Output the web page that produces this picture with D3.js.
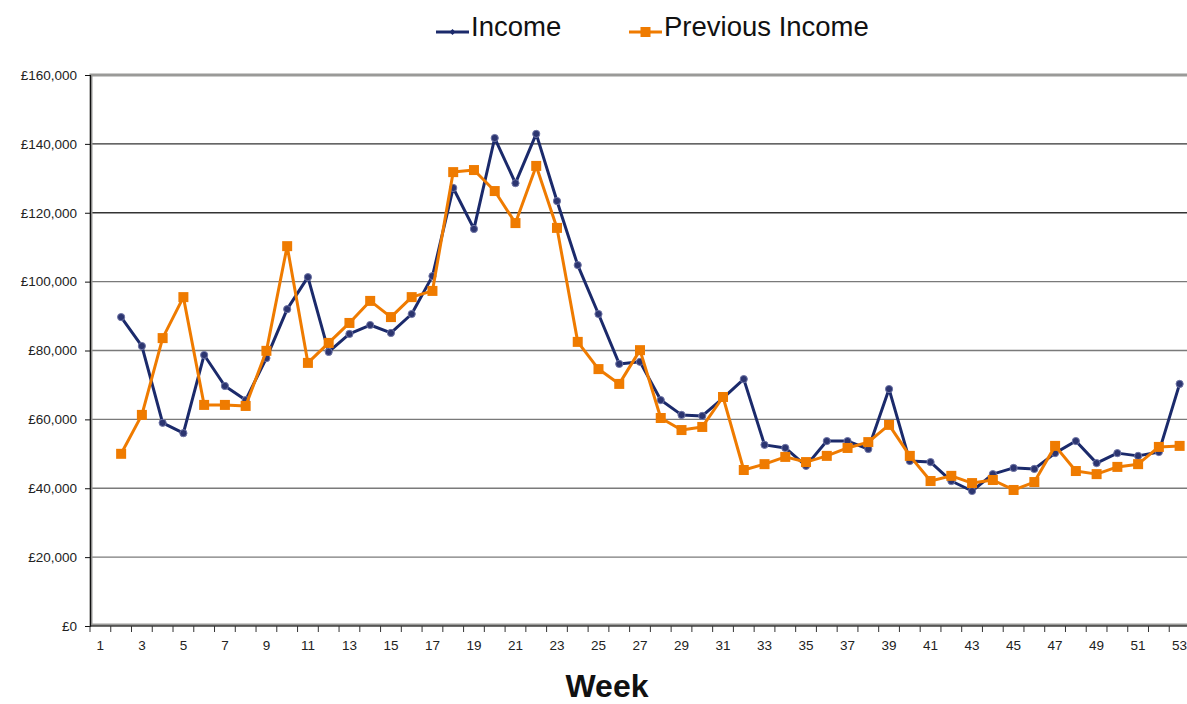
<!DOCTYPE html>
<head>
  <meta charset="utf-8">
  <script src="https://d3js.org/d3.v7.min.js"></script>
  <style>
    body { margin: 0; background: #fff; }
    svg { display: block; font-family: "Liberation Sans", Arial, sans-serif; }
    .tick text { fill: #222; font-size: 13.5px; }
    .legend text { fill: #111; font-size: 27.5px; }
    .axis-title { font-size: 32px; font-weight: bold; fill: #111; }
  </style>
</head>
<body>
<script>
  // weeks 1..53, no data for week 1
  var weeks = d3.range(1, 54);
  var income = [null, 89700, 81300, 59000, 56000, 78700, 69700, 65600, 77800, 92000,
    101300, 79600, 84800, 87400, 85100, 90600, 101600, 127200, 115300, 141700,
    128600, 142900, 123400, 104800, 90600, 76100, 76700, 65600, 61300, 61000,
    66200, 71700, 52600, 51700, 46500, 53700, 53700, 51400, 68800, 47900,
    47600, 42100, 39200, 44100, 45900, 45600, 50200, 53700, 47300, 50200,
    49400, 50500, 70300];
  var previousIncome = [null, 50000, 61300, 83600, 95500, 64200, 64200, 63900, 79900, 110300,
    76400, 82200, 88000, 94400, 89700, 95500, 97300, 131800, 132400, 126300,
    117000, 133600, 115600, 82500, 74600, 70300, 80100, 60400, 56900, 57800,
    66500, 45300, 47000, 49100, 47600, 49400, 51700, 53400, 58400, 49400,
    42100, 43600, 41500, 42400, 39500, 41800, 52300, 45000, 44100, 46200,
    47000, 52000, 52300];
  var yTicks = [0, 20000, 40000, 60000, 80000, 100000, 120000, 140000, 160000];
  var xLabels = weeks.filter(function(w) { return w % 2 === 1; });

  var width = 1187, height = 704;
  var margin = {top: 75, right: -3, bottom: 78, left: 90};
  var plotW = width - margin.left - margin.right;
  var plotH = height - margin.top - margin.bottom;

  var svg = d3.select("body").append("svg")
      .attr("width", width)
      .attr("height", height);

  var g = svg.append("g")
      .attr("transform", "translate(" + margin.left + "," + margin.top + ")");

  var x = d3.scaleBand().domain(weeks).range([0, plotW]);
  var y = d3.scaleLinear().domain([0, 160000]).range([plotH, 0]);

  // gridlines
  g.selectAll(".grid")
      .data(yTicks.filter(function(d) { return d > 0; }))
    .enter().append("line")
      .attr("x1", 0).attr("x2", plotW)
      .attr("y1", function(d) { return y(d); })
      .attr("y2", function(d) { return y(d); })
      .attr("stroke", function(d) { return d >= 120000 ? "#333" : "#7a7a7a"; })
      .attr("stroke-width", 1.4);

  // plot frame (grey shadow border)
  g.append("rect")
      .attr("x", 1).attr("y", 0)
      .attr("width", plotW).attr("height", plotH - 1)
      .attr("fill", "none")
      .attr("stroke", "#9a9a98")
      .attr("stroke-width", 3);

  // y axis
  var yAxis = d3.axisLeft(y)
      .tickValues(yTicks)
      .tickSize(5)
      .tickPadding(8)
      .tickFormat(function(d) { return "£" + d3.format(",")(d); });
  var ya = g.append("g").call(yAxis);
  ya.select(".domain").attr("stroke", "#111").attr("stroke-width", 1.2);
  ya.selectAll(".tick line").attr("stroke", "#111");

  // x axis: ticks on category boundaries, labels on odd weeks
  var xa = g.append("g").attr("transform", "translate(0," + plotH + ")");
  xa.append("line").attr("x1", 0).attr("x2", plotW)
      .attr("stroke", "#111").attr("stroke-width", 1.2);
  xa.selectAll(".xt")
      .data(weeks)
    .enter().append("line")
      .attr("x1", function(d) { return x(d); })
      .attr("x2", function(d) { return x(d); })
      .attr("y1", 0).attr("y2", 6)
      .attr("stroke", "#333");
  xa.selectAll(".xl")
      .data(xLabels)
    .enter().append("text")
      .attr("class", "tick")
      .attr("x", function(d) { return x(d) + x.bandwidth() / 2; })
      .attr("y", 24)
      .attr("text-anchor", "middle")
      .style("font-size", "13.5px")
      .attr("fill", "#222")
      .text(function(d) { return d; });

  var cx = function(i) { return x(weeks[i]) + x.bandwidth() / 2; };
  var line = d3.line()
      .defined(function(d) { return d != null; })
      .x(function(d, i) { return cx(i); })
      .y(function(d) { return y(d); });

  var navy = "#1b2a6b", orange = "#ef7b00";

  // Income
  g.append("path").datum(income)
      .attr("fill", "none").attr("stroke", navy).attr("stroke-width", 3)
      .attr("stroke-linejoin", "round")
      .attr("d", line);
  g.selectAll(".inc")
      .data(income.map(function(v, i) { return {v: v, i: i}; }).filter(function(d) { return d.v != null; }))
    .enter().append("circle")
      .attr("cx", function(d) { return cx(d.i); })
      .attr("cy", function(d) { return y(d.v); })
      .attr("r", 3.6)
      .attr("fill", "#2c3570")
      .attr("stroke", "#6f75a6").attr("stroke-width", 1);

  // Previous Income
  g.append("path").datum(previousIncome)
      .attr("fill", "none").attr("stroke", orange).attr("stroke-width", 3)
      .attr("stroke-linejoin", "round")
      .attr("d", line);
  g.selectAll(".prev")
      .data(previousIncome.map(function(v, i) { return {v: v, i: i}; }).filter(function(d) { return d.v != null; }))
    .enter().append("rect")
      .attr("x", function(d) { return cx(d.i) - 5; })
      .attr("y", function(d) { return y(d.v) - 5; })
      .attr("width", 10).attr("height", 10)
      .attr("fill", orange);

  // axis title
  svg.append("text")
      .attr("class", "axis-title")
      .attr("x", 607).attr("y", 697)
      .attr("text-anchor", "middle")
      .text("Week");

  // legend
  var legend = svg.append("g").attr("class", "legend");
  var items = [{name: "Income", color: navy, x: 436}, {name: "Previous Income", color: orange, x: 629}];
  items.forEach(function(it, k) {
    var lg = legend.append("g").attr("transform", "translate(" + it.x + ",32)");
    lg.append("line").attr("x1", 0).attr("x2", 33).attr("y1", 0).attr("y2", 0)
        .attr("stroke", it.color).attr("stroke-width", 3);
    if (k === 0) {
      lg.append("path").attr("d", "M16.5,-3 L19.5,0 L16.5,3 L13.5,0 Z").attr("fill", it.color);
    } else {
      lg.append("rect").attr("x", 11.5).attr("y", -5).attr("width", 10).attr("height", 10).attr("fill", it.color);
    }
    lg.append("text").attr("x", 35).attr("y", 4).text(it.name);
  });
</script>
</body>
